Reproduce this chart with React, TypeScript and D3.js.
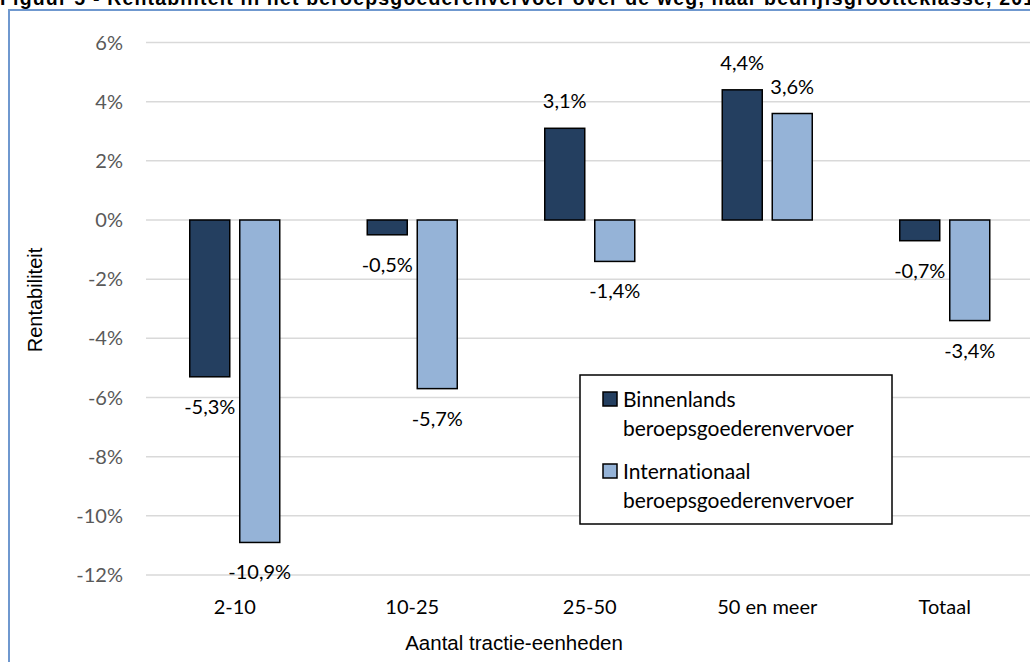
import React, { useEffect, useRef } from 'react'
import * as d3 from 'd3'

const categories = ['2-10', '10-25', '25-50', '50 en meer', 'Totaal']
const seriesNames = ['Binnenlands beroepsgoederenvervoer', 'Internationaal beroepsgoederenvervoer']
const binnenlands = [-5.3, -0.5, 3.1, 4.4, -0.7]
const internationaal = [-10.9, -5.7, -1.4, 3.6, -3.4]
const yTicks = [6, 4, 2, 0, -2, -4, -6, -8, -10, -12]
const colors = ['#243F60', '#95B3D7']

const W = 1030
const H = 662
const calibri = 'Lato, "Open Sans", sans-serif'
const arial = '"Liberation Sans", Arial, sans-serif'

export default function App() {
  const ref = useRef(null)

  useEffect(() => {
    document.body.style.margin = '0'
    const svg = d3.select(ref.current).style('font-variant-ligatures', 'none')
    svg.selectAll('*').remove()

    const x0 = d3.scaleBand().domain(categories).range([146, 1033.5])
    const x1 = d3.scaleBand().domain(seriesNames).range([-45, 45]).paddingInner(0.2)
    const y = d3.scaleLinear().domain([-12, 6]).range([575, 42.5])
    // Dutch style: decimal comma, plain hyphen for minus
    const fmt = (v: number) => (v < 0 ? '-' : '') + Math.abs(v).toFixed(1).replace('.', ',') + '%'

    // title (cut off at the top of the picture)
    svg
      .append('text')
      .attr('x', 0)
      .attr('y', 5)
      .attr('font-family', arial)
      .attr('font-weight', 'bold')
      .attr('font-size', 19.5)
      .attr('textLength', 1045)
      .attr('lengthAdjust', 'spacing')
      .text('Figuur 5 - Rentabiliteit in het beroepsgoederenvervoer over de weg, naar bedrijfsgrootteklasse, 2011')

    // chart frame
    svg
      .append('rect')
      .attr('x', 9)
      .attr('y', 10)
      .attr('width', W + 20)
      .attr('height', H + 20)
      .attr('fill', 'none')
      .attr('stroke', '#6F98CF')
      .attr('stroke-width', 2)

    // gridlines + tick labels
    const grid = svg.append('g')
    grid
      .selectAll('line')
      .data(yTicks)
      .enter()
      .append('line')
      .attr('x1', 146)
      .attr('x2', 1033.5)
      .attr('y1', d => y(d))
      .attr('y2', d => y(d))
      .attr('stroke', '#D9D9D9')
      .attr('stroke-width', 1.5)
    grid
      .selectAll('text')
      .data(yTicks)
      .enter()
      .append('text')
      .attr('x', 123)
      .attr('y', d => y(d))
      .attr('dy', '0.35em')
      .attr('text-anchor', 'end')
      .attr('font-family', calibri)
      .attr('font-size', 20)
      .attr('fill', '#595959')
      .text(d => d + '%')

    // bars
    const series = [binnenlands, internationaal]
    series.forEach((vals, si) => {
      const g = svg.append('g')
      g.selectAll('rect')
        .data(vals)
        .enter()
        .append('rect')
        .attr('x', (d, i) => x0(categories[i])! + x0.bandwidth() / 2 + x1(seriesNames[si])!)
        .attr('width', x1.bandwidth())
        .attr('y', d => y(Math.max(0, d)))
        .attr('height', d => Math.abs(y(d) - y(0)))
        .attr('fill', colors[si])
        .attr('stroke', '#000')
        .attr('stroke-width', 1.5)
      g.selectAll('text')
        .data(vals)
        .enter()
        .append('text')
        .attr('x', (d, i) => x0(categories[i])! + x0.bandwidth() / 2 + x1(seriesNames[si])! + x1.bandwidth() / 2)
        .attr('y', d => (d >= 0 ? y(d) - 20 : y(d) + 37))
        .attr('text-anchor', 'middle')
        .attr('font-family', calibri)
        .attr('font-size', 20)
        .attr('fill', '#000')
        .text(d => fmt(d))
    })

    // category labels
    svg
      .append('g')
      .selectAll('text')
      .data(categories)
      .enter()
      .append('text')
      .attr('x', d => x0(d)! + x0.bandwidth() / 2)
      .attr('y', 614)
      .attr('text-anchor', 'middle')
      .attr('font-family', calibri)
      .attr('font-size', 20)
      .attr('fill', '#000')
      .text(d => d)

    // axis titles
    svg
      .append('text')
      .attr('x', 514)
      .attr('y', 650)
      .attr('text-anchor', 'middle')
      .attr('font-family', arial)
      .attr('font-size', 20.5)
      .text('Aantal tractie-eenheden')
    svg
      .append('text')
      .attr('transform', 'translate(42, 300) rotate(-90)')
      .attr('text-anchor', 'middle')
      .attr('font-family', arial)
      .attr('font-size', 20)
      .text('Rentabiliteit')

    // legend
    const lg = svg.append('g')
    lg.append('rect')
      .attr('x', 580)
      .attr('y', 375)
      .attr('width', 312)
      .attr('height', 149)
      .attr('fill', '#fff')
      .attr('stroke', '#000')
      .attr('stroke-width', 1.5)
    const legendLines = [
      ['Binnenlands', 'beroepsgoederenvervoer'],
      ['Internationaal', 'beroepsgoederenvervoer'],
    ]
    legendLines.forEach((lines, i) => {
      const top = 392 + i * 72
      lg.append('rect')
        .attr('x', 603)
        .attr('y', top)
        .attr('width', 14)
        .attr('height', 14)
        .attr('fill', colors[i])
        .attr('stroke', '#000')
        .attr('stroke-width', 1.5)
      lines.forEach((t, j) => {
        lg.append('text')
          .attr('x', 623)
          .attr('y', top + 15 + j * 29)
          .attr('font-family', calibri)
          .attr('font-size', 21)
          .attr('fill', '#000')
          .text(t)
      })
    })
  }, [])

  return <svg width={W} height={H} ref={ref} style={{ display: 'block' }} />
}
